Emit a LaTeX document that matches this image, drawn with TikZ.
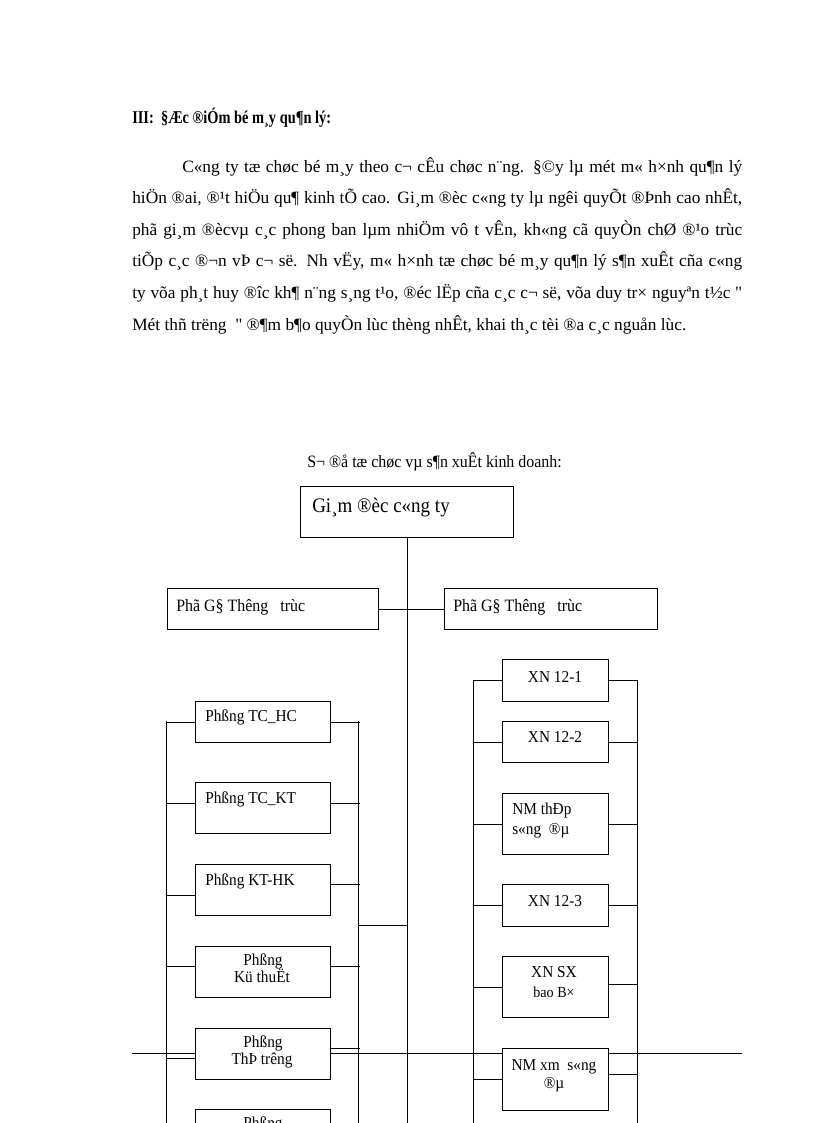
\documentclass[tikz,border=0pt]{standalone}
\usepackage{fontspec}
\setmainfont[FakeStretch=0.92,Ligatures=TeXOff]{Liberation Serif}
\newfontfamily\bodyf[Ligatures=TeXOff]{Liberation Serif}
\newfontfamily\headf[FakeStretch=0.8,Ligatures=TeXOff]{Liberation Serif}
\tikzset{
  px/.style={x=0.75pt,y=-0.75pt},
  box/.style={draw,line width=0.75pt,fill=white,inner sep=0pt,anchor=north west},
  ln/.style={line width=0.75pt},
  bodyt/.style={anchor=base west,inner sep=0pt,font=\bodyf\fontsize{13}{15}\selectfont},
  bxt/.style={anchor=base west,inner sep=0pt,font=\fontsize{12.5}{15}\selectfont},
  bxc/.style={anchor=base,inner sep=0pt,font=\fontsize{12.5}{15}\selectfont}
}
\newcommand\mkbox[5]{\node[box,minimum width=#4*0.75pt,minimum height=#5*0.75pt] (#1) at (#2,#3) {};}
\newcommand\lcon[2]{\draw[ln] ([yshift=-#2*0.75pt]#1.west) -- ++(-29,0);}
\newcommand\rcon[2]{\draw[ln] ([yshift=-#2*0.75pt]#1.east) -- ++(29,0);}
\begin{document}
\begin{tikzpicture}[px]
\useasboundingbox (0,0) rectangle (816,1123);
\fill[white] (0,0) rectangle (816,1123);
\clip (0,0) rectangle (816,1123);

% heading and paragraph
\node[anchor=base west,inner sep=0pt,font=\headf\fontsize{13.5}{15}\selectfont\bfseries] (head) at (132,124) {III:\ \ §Æc ®iÓm bé m¸y qu¶n lý:};
\node[bodyt] (p1) at (182,172.5) {\makebox[420pt][s]{C«ng ty tæ chøc bé m¸y theo c¬ cÊu chøc n¨ng. §©y lµ mét m« h×nh qu¶n lý}};
\node[bodyt] (p2) at (132,204) {\makebox[457.5pt][s]{hiÖn ®ai, ®¹t hiÖu qu¶ kinh tÕ cao. Gi¸m ®èc c«ng ty lµ ngêi quyÕt ®Þnh cao nhÊt,}};
\node[bodyt] (p3) at (132,235.5) {\makebox[457.5pt][s]{phã gi¸m ®ècvµ c¸c phong ban lµm nhiÖm vô t vÊn, kh«ng cã quyÒn chØ ®¹o trùc}};
\node[bodyt] (p4) at (132,267) {\makebox[457.5pt][s]{tiÕp c¸c ®¬n vÞ c¬ së. Nh vËy, m« h×nh tæ chøc bé m¸y qu¶n lý s¶n xuÊt cña c«ng}};
\node[bodyt] (p5) at (132,298.5) {\makebox[457.5pt][s]{ty võa ph¸t huy ®îc kh¶ n¨ng s¸ng t¹o, ®éc lËp cña c¸c c¬ së, võa duy tr× nguyªn t½c "}};
\node[bodyt] (p6) at (132,330) {Mét thñ trëng\ \ " ®¶m b¶o quyÒn\ lùc thèng nhÊt, khai th¸c tèi ®a c¸c nguån lùc.};

\node[bodyt,font=\fontsize{13}{15}\selectfont] (cap) at (307,467) {S¬ ®å tæ chøc vµ s¶n xuÊt kinh\ doanh:};

% page footer rule
\coordinate (fa) at (132,1053);
\coordinate (fb) at (742,1053);
\draw[ln] (fa) -- (fb);

% brackets and trunk
\coordinate (LLt) at (166,721);  \coordinate (LLb) at (166,1135);
\coordinate (LRt) at (358,721);  \coordinate (LRb) at (358,1135);
\coordinate (RLt) at (473,680);  \coordinate (RLb) at (473,1135);
\coordinate (RRt) at (637,680);  \coordinate (RRb) at (637,1135);
\coordinate (LJ) at (358,925);   \coordinate (TJ) at (407,925);
\coordinate (TB) at (407,1135);
\draw[ln] (LLt) -- (LLb);
\draw[ln] (LRt) -- (LRb);
\draw[ln] (RLt) -- (RLb);
\draw[ln] (RRt) -- (RRb);
\draw[ln] (LJ) -- (TJ);

% boxes
\mkbox{top}{300}{486}{213}{51}
\draw[ln] (top.south) -- (TB);
\mkbox{pL}{167}{588}{211}{41}
\mkbox{pR}{444}{588}{213}{41}
\draw[ln] (pL.east) -- (pR.west);

\mkbox{l1}{195}{701}{135}{41}
\mkbox{l2}{195}{782}{135}{51}
\mkbox{l3}{195}{864}{135}{51}
\mkbox{l4}{195}{946}{135}{51}
\mkbox{l5}{195}{1028}{135}{51}
\mkbox{l6}{195}{1109}{135}{60}

\mkbox{r1}{502}{659}{106}{42}
\mkbox{r2}{502}{721}{106}{41}
\mkbox{r3}{502}{793}{106}{61}
\mkbox{r4}{502}{884}{106}{42}
\mkbox{r5}{502}{956}{106}{61}
\mkbox{r6}{502}{1048}{106}{62}

% connectors
\lcon{l1}{0}   \rcon{l1}{0}
\lcon{l2}{-4.5} \rcon{l2}{-4.5}
\lcon{l3}{5.5} \rcon{l3}{-5.5}
\lcon{l4}{-5.5} \rcon{l4}{-5.5}
\lcon{l5}{4.5} \rcon{l5}{-5.5}
\lcon{r1}{0} \rcon{r1}{0}
\lcon{r2}{0} \rcon{r2}{0}
\lcon{r3}{0} \rcon{r3}{0}
\lcon{r4}{0} \rcon{r4}{0}
\lcon{r5}{0} \rcon{r5}{-2.5}
\lcon{r6}{0} \rcon{r6}{-5}

% box texts
\node[bxt,font=\fontsize{15.5}{18}\selectfont] (ttop) at (312,512) {Gi¸m ®èc c«ng ty};
\node[bxt,font=\fontsize{13}{15}\selectfont] (tpL) at (176,611) {Phã G§ Thêng\ \ \ trùc};
\node[bxt,font=\fontsize{13}{15}\selectfont] (tpR) at (453,611) {Phã G§ Thêng\ \ \ trùc};
\node[bxt] (tl1) at (205,721) {Phßng TC\_HC};
\node[bxt] (tl2) at (205,803) {Phßng TC\_KT};
\node[bxt] (tl3) at (205,885) {Phßng KT-HK};
\node[bxc] (tl4a) at (263,965) {Phßng};
\node[bxc] (tl4b) at (262,982) {Kü thuËt};
\node[bxc] (tl5a) at (263,1047) {Phßng};
\node[bxc] (tl5b) at (262,1064) {ThÞ trêng};
\node[bxc] (tl6a) at (263,1128) {Phßng};

\node[bxc] (tr1) at (555,682) {XN 12-1};
\node[bxc] (tr2) at (555,742) {XN 12-2};
\node[bxt] (tr3a) at (512,814) {NM thÐp};
\node[bxt] (tr3b) at (512,834) {s«ng\ \ ®µ};
\node[bxc] (tr4) at (555,906) {XN 12-3};
\node[bxc] (tr5a) at (554,977) {XN SX};
\node[bxc,font=\fontsize{11.5}{14}\selectfont] (tr5b) at (554,997) {bao B×};
\node[bxc] (tr6a) at (554,1070) {NM xm\ \ s«ng};
\node[bxc] (tr6b) at (554,1088) {®µ};
\end{tikzpicture}
\end{document}
